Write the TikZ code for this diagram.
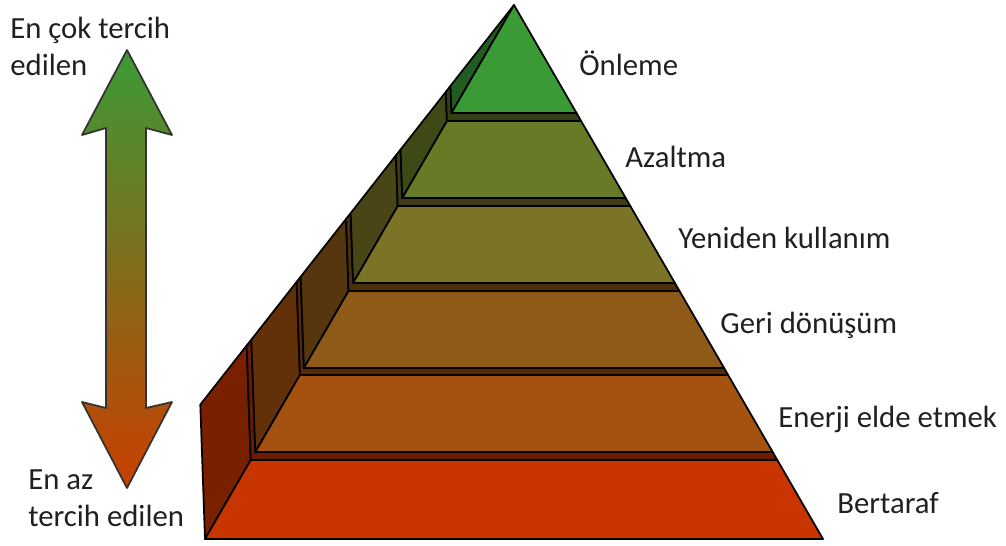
\documentclass[tikz,border=0pt]{standalone}
\usepackage{fontspec}
\setmainfont{Carlito}
\usepackage{xcolor}
\usepackage{tikz}
\usetikzlibrary{shapes,positioning,calc}

\definecolor{bertaraf}{HTML}{C93500}
\definecolor{enerji}{HTML}{A5510F}
\definecolor{geri}{HTML}{8F5A17}
\definecolor{yeniden}{HTML}{7B7325}
\definecolor{azaltma}{HTML}{677A25}
\definecolor{onleme}{HTML}{3A9A36}
\definecolor{arrowtop}{HTML}{3C9A36}
\definecolor{arrowmid}{HTML}{7A6A20}
\definecolor{arrowbot}{HTML}{C93F00}
\definecolor{labeltext}{HTML}{202020}

\begin{document}
\begin{tikzpicture}[x=0.02cm, y=0.02cm, line join=round,
    face/.style={draw=black, line width=1pt, fill=#1},
    wall/.style={draw=black, line width=1pt, fill=#1!60!black},
    strip/.style={draw=black, line width=1pt, fill=#1!52!black},
    lbl/.style={anchor=base west, inner sep=0pt, text=labeltext, align=left,
        font=\fontsize{17.5pt}{20.5pt}\selectfont},
    arrowbody/.style={draw=black!80, line width=1pt, top color=arrowtop,
        middle color=arrowmid, bottom color=arrowbot}]
    \useasboundingbox (0,0) rectangle (1006,-545);

    % pyramid corners: l = front left, r = front right, s = back edge
    \coordinate (apex) at (514,-5);
    \coordinate (l1b) at (205.0,-539); \coordinate (l1t) at (250.7,-460);
    \coordinate (r1b) at (823.0,-539); \coordinate (r1t) at (777.3,-460);
    \coordinate (s1b) at (200.3,-404.6); \coordinate (s1t) at (246.7,-345.5);
    \coordinate (l2b) at (255.3,-452); \coordinate (l2t) at (299.9,-375);
    \coordinate (r2b) at (772.7,-452); \coordinate (r2t) at (728.1,-375);
    \coordinate (s2b) at (251.4,-339.6); \coordinate (s2t) at (296.6,-281.9);
    \coordinate (l3b) at (303.9,-368); \coordinate (l3t) at (348.5,-291);
    \coordinate (r3b) at (724.1,-368); \coordinate (r3t) at (679.5,-291);
    \coordinate (s3b) at (300.7,-276.7); \coordinate (s3t) at (346.0,-219.0);
    \coordinate (l4b) at (353.1,-283); \coordinate (l4t) at (397.7,-206);
    \coordinate (r4b) at (674.9,-283); \coordinate (r4t) at (630.3,-206);
    \coordinate (s4b) at (350.7,-213.1); \coordinate (s4t) at (395.9,-155.4);
    \coordinate (l5b) at (402.3,-198); \coordinate (l5t) at (446.9,-121);
    \coordinate (r5b) at (625.7,-198); \coordinate (r5t) at (581.1,-121);
    \coordinate (s5b) at (400.6,-149.5); \coordinate (s5t) at (445.9,-91.8);
    \coordinate (l6b) at (451.5,-113); \coordinate (r6b) at (576.5,-113);
    \coordinate (s6b) at (450.5,-85.8);

    % Bertaraf
    \draw[wall=bertaraf] (l1b) -- (l1t) -- (s1t) -- (s1b) -- cycle;
    \draw[face=bertaraf] (l1b) -- (r1b) -- (r1t) -- (l1t) -- cycle;
    \draw[strip=bertaraf] (l1t) -- (r1t) -- (r2b) -- (l2b) -- (s2b) -- (s1t) -- cycle;
    % Enerji elde etmek
    \draw[wall=enerji] (l2b) -- (l2t) -- (s2t) -- (s2b) -- cycle;
    \draw[face=enerji] (l2b) -- (r2b) -- (r2t) -- (l2t) -- cycle;
    \draw[strip=enerji] (l2t) -- (r2t) -- (r3b) -- (l3b) -- (s3b) -- (s2t) -- cycle;
    % Geri donusum
    \draw[wall=geri] (l3b) -- (l3t) -- (s3t) -- (s3b) -- cycle;
    \draw[face=geri] (l3b) -- (r3b) -- (r3t) -- (l3t) -- cycle;
    \draw[strip=geri] (l3t) -- (r3t) -- (r4b) -- (l4b) -- (s4b) -- (s3t) -- cycle;
    % Yeniden kullanim
    \draw[wall=yeniden] (l4b) -- (l4t) -- (s4t) -- (s4b) -- cycle;
    \draw[face=yeniden] (l4b) -- (r4b) -- (r4t) -- (l4t) -- cycle;
    \draw[strip=yeniden] (l4t) -- (r4t) -- (r5b) -- (l5b) -- (s5b) -- (s4t) -- cycle;
    % Azaltma
    \draw[wall=azaltma] (l5b) -- (l5t) -- (s5t) -- (s5b) -- cycle;
    \draw[face=azaltma] (l5b) -- (r5b) -- (r5t) -- (l5t) -- cycle;
    \draw[strip=azaltma] (l5t) -- (r5t) -- (r6b) -- (l6b) -- (s6b) -- (s5t) -- cycle;
    % Onleme
    \draw[wall=onleme] (l6b) -- (apex) -- (s6b) -- cycle;
    \draw[face=onleme] (l6b) -- (r6b) -- (apex) -- cycle;

    % labels
    \node[lbl] (onl) at (579,-75) {Önleme};
    \node[lbl] (aza) at (625,-167) {Azaltma};
    \node[lbl] (yen) at (678,-248) {Yeniden kullanım};
    \node[lbl] (ger) at (720,-333) {Geri dönüşüm};
    \node[lbl] (ene) at (778,-427) {Enerji elde etmek};
    \node[lbl] (ber) at (837,-513) {Bertaraf};

    % preference arrow
    \coordinate (up) at (127,-50);
    \coordinate (down) at (127,-488);
    \draw[arrowbody] (up) -- (172,-135) -- (146,-128) -- (146,-408) -- (172,-402)
        -- (down) -- (82,-402) -- (106,-408) -- (106,-128) -- (82,-135) -- cycle;
    \node[lbl] (most) at (10,-75) {En çok tercih\\edilen};
    \node[lbl] (least) at (28,-526) {En az\\tercih edilen};
\end{tikzpicture}
\end{document}
